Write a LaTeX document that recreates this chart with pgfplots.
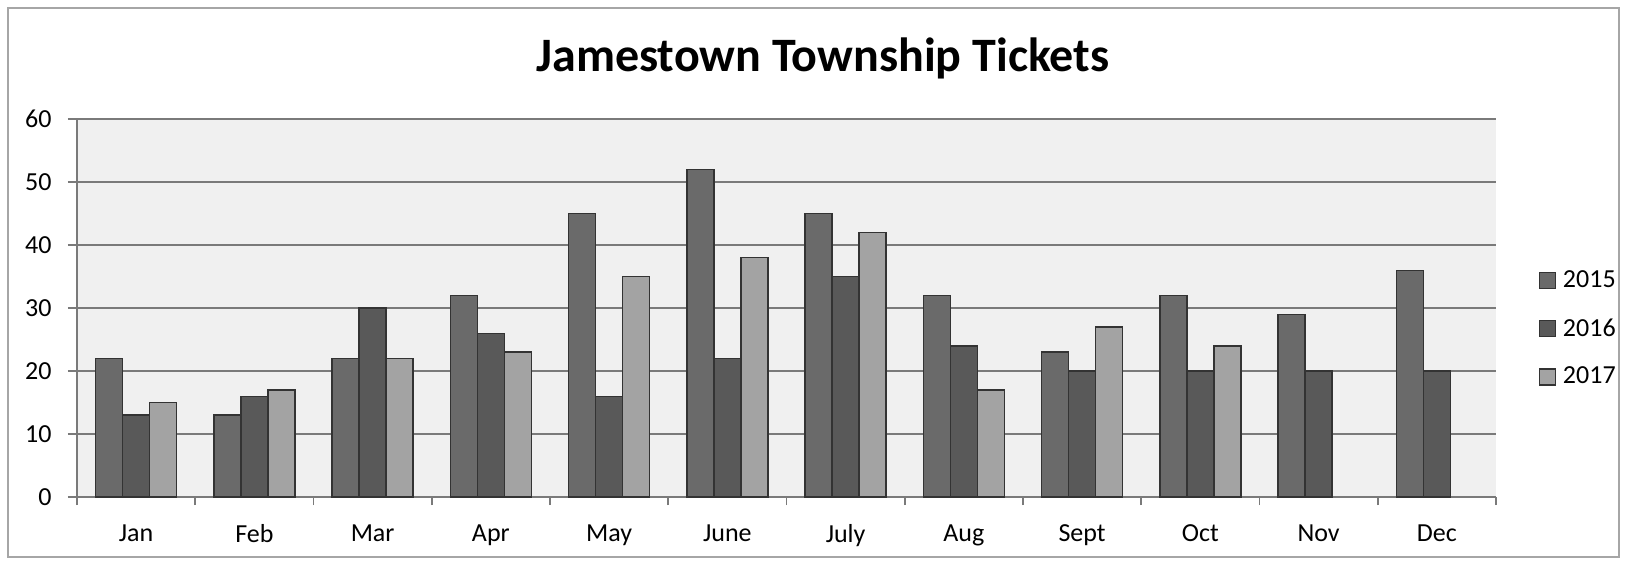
\documentclass[border=0pt]{standalone}
\usepackage{pgfplots}
\pgfplotsset{compat=1.18}
\usepackage{fontspec}
\setmainfont{Carlito}

\definecolor{c15}{HTML}{6A6A6A}
\definecolor{c16}{HTML}{595959}
\definecolor{c17}{HTML}{A3A3A3}
\definecolor{plotbg}{HTML}{F0F0F0}
\definecolor{gridc}{HTML}{7A7A7A}
\definecolor{edgec}{HTML}{333333}

\begin{document}
\begin{tikzpicture}
  % page size: 1628 x 562 px at 0.5pt per px
  \path[fill=white] (-38.5pt,-32.5pt) rectangle (775.5pt,248.5pt);
  \draw[gray!70, line width=0.8pt] (-34.5pt,-30pt) rectangle (771pt,244.5pt);
  \begin{axis}[
    at={(0,0)}, anchor=south west,
    scale only axis,
    width=709.5pt, height=189pt,
    ybar=0pt, bar width=13.5pt,
    xmin=-0.5, xmax=11.5,
    ymin=0, ymax=60,
    ytick={0,10,...,60},
    xtick={0,...,11},
    xticklabels={Jan,Feb,Mar,Apr,May,June,July,Aug,Sept,Oct,Nov,Dec},
    minor xtick={-0.5,0.5,...,11.5},
    major x tick style={draw=none},
    tick align=outside,
    major tick length=4.5pt,
    minor tick length=4pt,
    axis x line*=bottom,
    axis y line*=left,
    axis line style={gridc, line width=0.9pt},
    tick style={gridc, line width=0.9pt},
    ymajorgrids=true,
    grid style={gridc, line width=1pt},
    axis background/.style={fill=plotbg},
    /pgf/number format/assume math mode=true,
    ticklabel style={font=\fontsize{13}{15}\selectfont, text=black},
    yticklabel style={inner xsep=0pt, xshift=-8pt},
    xticklabel style={inner ysep=0pt, yshift=-9pt},
    legend style={
      at={(1.0255,0.445)}, anchor=west,
      draw=none, fill=none,
      font=\fontsize{13}{15}\selectfont,
      row sep=14pt,
      nodes={inner sep=0pt, anchor=west},
      /tikz/every odd column/.append style={column sep=3.5pt},
    },
    legend cell align=left,
    legend image code/.code={
      \draw[#1] (0pt,-4pt) rectangle (8pt,4pt);
    },
  ]
  \addplot[fill=c15, draw=edgec, line width=0.7pt]
    coordinates {(0,22) (1,13) (2,22) (3,32) (4,45) (5,52)
                 (6,45) (7,32) (8,23) (9,32) (10,29) (11,36)};
  \addlegendentry{2015}
  \addplot[fill=c16, draw=edgec, line width=0.7pt]
    coordinates {(0,13) (1,16) (2,30) (3,26) (4,16) (5,22)
                 (6,35) (7,24) (8,20) (9,20) (10,20) (11,20)};
  \addlegendentry{2016}
  \addplot[fill=c17, draw=edgec, line width=0.7pt]
    coordinates {(0,15) (1,17) (2,22) (3,23) (4,35) (5,38)
                 (6,42) (7,17) (8,27) (9,24)};
  \addlegendentry{2017}
  \end{axis}
  \node[font=\bfseries\fontsize{24}{28}\selectfont] at (373pt,219.5pt)
    {Jamestown Township Tickets};
\end{tikzpicture}
\end{document}
